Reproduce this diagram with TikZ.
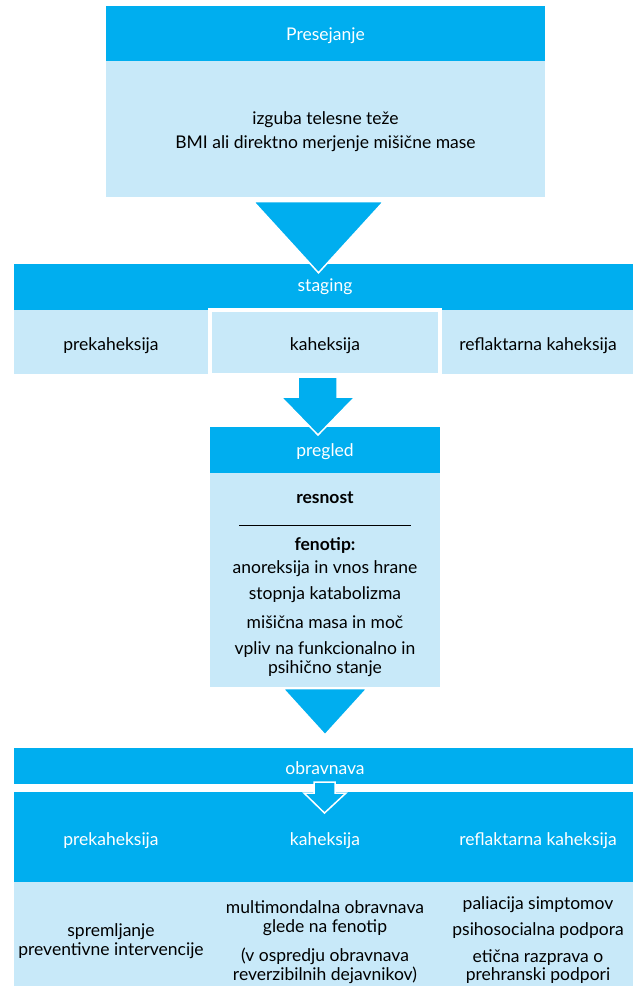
\documentclass[tikz,border=0pt]{standalone}
\usepackage{fontspec}
\setmainfont{Lato}
\usetikzlibrary{positioning}
\definecolor{hdrblue}{RGB}{0,174,239}
\definecolor{lightblue}{RGB}{200,233,249}

\begin{document}
\begin{tikzpicture}[x=1pt,y=-1pt,
  hdr/.style={fill=hdrblue,text=white,inner sep=0pt,font=\fontsize{17.5}{19}\selectfont},
  body/.style={fill=lightblue,inner sep=0pt,align=center,font=\fontsize{17.5}{24}\selectfont},
  txt/.style={align=center,inner sep=0pt,font=\fontsize{17.5}{18.5}\selectfont},
  wedge/.style={fill=hdrblue,draw=white,line width=1.5pt,line join=miter}]
\useasboundingbox (0,0) rectangle (633,986);

\node[hdr,minimum width=439,minimum height=55] (pres) at (325.5,33.5) {};
\node[txt,text=white] (prestxt) at (325.5,36) {Presejanje};
\node[body,minimum width=439,minimum height=136,below=0pt of pres] (presbody) {};
\node[body,fill=none] (prestext) at (325.5,131.5) {izguba telesne teže\\BMI ali direktno merjenje mišične mase};

\node[hdr,minimum width=619,minimum height=46] (staging) at (323.5,287) {};
\node[txt,text=white] (stagtxt) at (325,287) {staging};
\node[body,minimum width=619,minimum height=64,below=0pt of staging] (stagerow) {};
\node[txt] (spre) at (111,346) {prekaheksija};
\node[body,draw=white,line width=4pt,minimum width=230,minimum height=65] (skah) at (325,342.5) {};
\node[txt] (skahtxt) at (325,346) {kaheksija};
\node[txt] (sref) at (538,346) {reflaktarna kaheksija};

\draw[wedge] ([xshift=-72pt,yshift=-4pt]presbody.south) -- ([xshift=58pt,yshift=-4pt]presbody.south)
  -- ([xshift=-5pt,yshift=-9pt]staging.north) -- cycle;

\node[hdr,minimum width=230,minimum height=46] (pregled) at (325,450) {};
\node[txt,text=white] (pregtxt) at (325,452) {pregled};
\node[body,minimum width=230,minimum height=214,below=0pt of pregled] (pregbody) {};
\node[txt,font=\fontsize{17.5}{18}\bfseries] (resnost) at (325,498) {resnost};
\draw[line width=0.9pt] (239,525) -- (411,525);
\node[txt,font=\fontsize{17.5}{18}\bfseries] (fenotip) at (325,545) {fenotip:};
\foreach \t/\y in {anoreksija in vnos hrane/569,stopnja katabolizma/595,mišična masa in moč/622,
  {vpliv na funkcionalno in\\psihično stanje}/659}
  \node[txt] (fen\y) at (325,\y) {\t};

\draw[wedge] (298,377) -- (337,377) -- (337,397) -- (355,397) -- (318,435) -- (281,397) -- (298,397) -- cycle;

\node[hdr,minimum width=619,minimum height=36] (obrav) at (323.5,766) {};
\node[txt,text=white] (obravtxt) at (325,768) {obravnava};
\node[hdr,minimum width=619,minimum height=90] (obravcols) at (323.5,837) {};
\node[body,minimum width=619,minimum height=104] (obravbody) at (323.5,934) {};

\draw[wedge] ([xshift=-42pt,yshift=-1pt]pregbody.south) -- ([xshift=42pt,yshift=-1pt]pregbody.south)
  -- ([yshift=13pt]obrav.north -| pregbody.south) -- cycle;
\draw[wedge] (314,782) -- (335,782) -- (335,793) -- (346,793) -- (324.5,813) -- (304,793) -- (314,793) -- cycle;

\node[txt,text=white] (opre) at (111,841) {prekaheksija};
\node[txt,text=white] (okah) at (325,841) {kaheksija};
\node[txt,text=white] (oref) at (538,841) {reflaktarna kaheksija};

\node[txt] (tpre) at (111,941) {spremljanje\\preventivne intervencije};
\node[txt] (tkah) at (325,942) {multimondalna obravnava\\glede na fenotip\\[11pt](v ospredju obravnava\\reverzibilnih dejavnikov)};
\node[txt] (tref) at (538,940) {paliacija simptomov\\[8pt]psihosocialna podpora\\[8pt]etična razprava o\\prehranski podpori};
\end{tikzpicture}
\end{document}
